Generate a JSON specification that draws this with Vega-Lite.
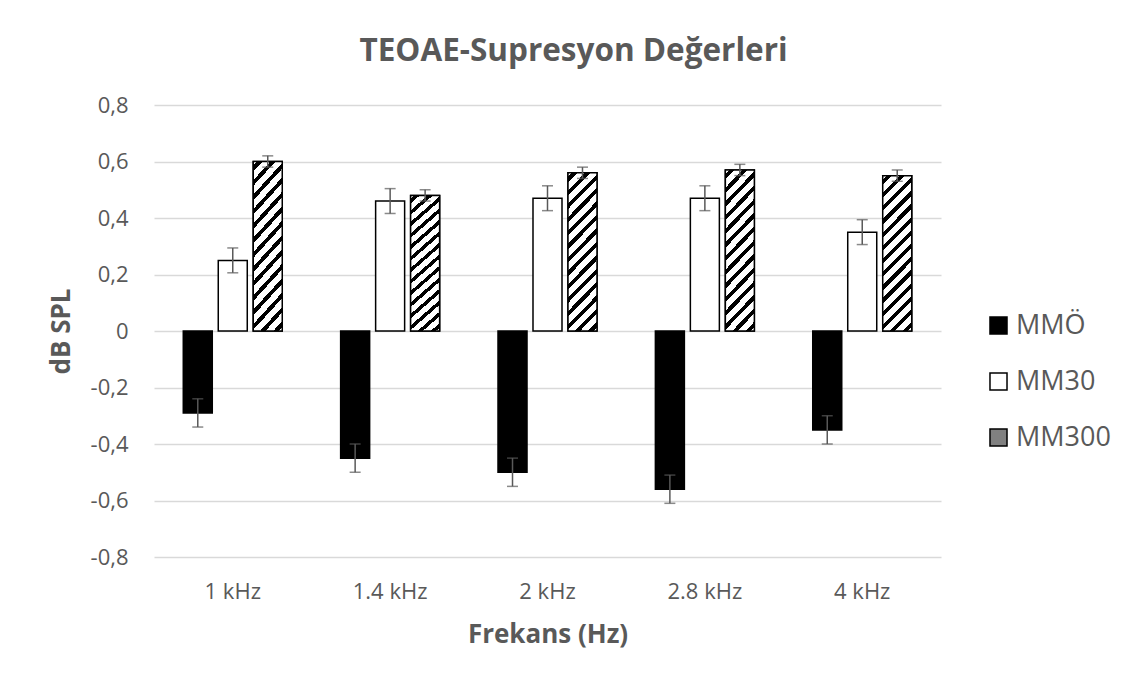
{
  "$schema": "https://vega.github.io/schema/vega-lite/v6.json",
  "width": 787,
  "height": 452,
  "autosize": {"type": "none"},
  "padding": {"left": 154, "top": 105, "right": 194, "bottom": 127},
  "background": "white",
  "title": {
    "text": "TEOAE-Supresyon Değerleri",
    "font": "Open Sans",
    "fontSize": 31.5,
    "fontWeight": "bold",
    "color": "#595959",
    "anchor": "middle",
    "dx": 26,
    "offset": 27
  },
  "config": {
    "view": {"stroke": null},
    "font": "Open Sans",
    "axis": {
      "labelFont": "Open Sans",
      "labelColor": "#595959",
      "labelFontSize": 22,
      "titleFont": "Open Sans",
      "titleColor": "#595959",
      "titleFontSize": 26,
      "titleFontWeight": "bold",
      "gridColor": "#d9d9d9",
      "gridWidth": 1.5,
      "ticks": false,
      "domain": false
    }
  },
  "data": {
    "values": [
      {"freq": "1 kHz", "group": "MMÖ", "value": -0.29, "lo": -0.34, "hi": -0.24},
      {"freq": "1 kHz", "group": "MM30", "value": 0.25, "lo": 0.206, "hi": 0.294},
      {"freq": "1 kHz", "group": "MM300", "value": 0.60, "lo": 0.58, "hi": 0.62},
      {"freq": "1.4 kHz", "group": "MMÖ", "value": -0.45, "lo": -0.50, "hi": -0.40},
      {"freq": "1.4 kHz", "group": "MM30", "value": 0.46, "lo": 0.416, "hi": 0.504},
      {"freq": "1.4 kHz", "group": "MM300", "value": 0.48, "lo": 0.46, "hi": 0.50},
      {"freq": "2 kHz", "group": "MMÖ", "value": -0.50, "lo": -0.55, "hi": -0.45},
      {"freq": "2 kHz", "group": "MM30", "value": 0.47, "lo": 0.426, "hi": 0.514},
      {"freq": "2 kHz", "group": "MM300", "value": 0.56, "lo": 0.54, "hi": 0.58},
      {"freq": "2.8 kHz", "group": "MMÖ", "value": -0.56, "lo": -0.61, "hi": -0.51},
      {"freq": "2.8 kHz", "group": "MM30", "value": 0.47, "lo": 0.426, "hi": 0.514},
      {"freq": "2.8 kHz", "group": "MM300", "value": 0.57, "lo": 0.55, "hi": 0.59},
      {"freq": "4 kHz", "group": "MMÖ", "value": -0.35, "lo": -0.40, "hi": -0.30},
      {"freq": "4 kHz", "group": "MM30", "value": 0.35, "lo": 0.306, "hi": 0.394},
      {"freq": "4 kHz", "group": "MM300", "value": 0.55, "lo": 0.53, "hi": 0.57}
    ]
  },
  "encoding": {
    "x": {
      "field": "freq",
      "type": "nominal",
      "sort": ["1 kHz", "1.4 kHz", "2 kHz", "2.8 kHz", "4 kHz"],
      "scale": {"paddingInner": 0.371, "paddingOuter": 0.186},
      "axis": {"title": "Frekans (Hz)", "labelAngle": 0, "labelPadding": 24, "titlePadding": 19, "grid": false}
    },
    "xOffset": {
      "field": "group",
      "type": "nominal",
      "sort": ["MMÖ", "MM30", "MM300"],
      "scale": {"domain": ["MMÖ", "MM30", "MM300"], "paddingInner": 0.171, "paddingOuter": 0}
    }
  },
  "layer": [
    {
      "mark": {"type": "bar", "stroke": "#000000", "strokeWidth": 1.5},
      "encoding": {
        "y": {
          "field": "value",
          "type": "quantitative",
          "scale": {"domain": [-0.8, 0.8], "nice": false},
          "axis": {
            "title": "dB SPL",
            "values": [-0.8, -0.6, -0.4, -0.2, 0, 0.2, 0.4, 0.6, 0.8],
            "labelExpr": "datum.value == 0 ? '0' : replace(replace(format(datum.value, '.1f'), '.', ','), '−', '-')",
            "labelPadding": 26,
            "titlePadding": 16,
            "grid": true
          }
        },
        "fill": {
          "field": "group",
          "type": "nominal",
          "scale": {"domain": ["MMÖ", "MM30", "MM300"], "range": ["#000000", "#ffffff", "#808080"]},
          "legend": {
            "title": null,
            "orient": "none",
            "legendX": 831,
            "legendY": 207,
            "symbolType": "square",
            "symbolSize": 290,
            "symbolStrokeColor": "#000000",
            "symbolStrokeWidth": 1.5,
            "symbolOpacity": 1,
            "labelFont": "Open Sans",
            "labelFontSize": 27,
            "labelColor": "#595959",
            "labelOffset": 4,
            "rowPadding": 28,
            "labelLimit": 200
          }
        }
      }
    },
    {
      "transform": [{"filter": "datum.group === 'MM300'"}],
      "mark": {
        "type": "bar",
        "stroke": "#000000",
        "strokeWidth": 1.5,
        "fill": {
          "gradient": "linear",
          "x1": 0, "y1": 0, "x2": 0.215, "y2": 1.148,
          "stops": [
            {"offset": 0, "color": "#ffffff"},
            {"offset": 0.0214, "color": "#ffffff"}, {"offset": 0.0214, "color": "#000000"}, {"offset": 0.05, "color": "#000000"}, {"offset": 0.05, "color": "#ffffff"},
            {"offset": 0.0929, "color": "#ffffff"}, {"offset": 0.0929, "color": "#000000"}, {"offset": 0.1214, "color": "#000000"}, {"offset": 0.1214, "color": "#ffffff"},
            {"offset": 0.1643, "color": "#ffffff"}, {"offset": 0.1643, "color": "#000000"}, {"offset": 0.1929, "color": "#000000"}, {"offset": 0.1929, "color": "#ffffff"},
            {"offset": 0.2357, "color": "#ffffff"}, {"offset": 0.2357, "color": "#000000"}, {"offset": 0.2643, "color": "#000000"}, {"offset": 0.2643, "color": "#ffffff"},
            {"offset": 0.3071, "color": "#ffffff"}, {"offset": 0.3071, "color": "#000000"}, {"offset": 0.3357, "color": "#000000"}, {"offset": 0.3357, "color": "#ffffff"},
            {"offset": 0.3786, "color": "#ffffff"}, {"offset": 0.3786, "color": "#000000"}, {"offset": 0.4071, "color": "#000000"}, {"offset": 0.4071, "color": "#ffffff"},
            {"offset": 0.45, "color": "#ffffff"}, {"offset": 0.45, "color": "#000000"}, {"offset": 0.4786, "color": "#000000"}, {"offset": 0.4786, "color": "#ffffff"},
            {"offset": 0.5214, "color": "#ffffff"}, {"offset": 0.5214, "color": "#000000"}, {"offset": 0.55, "color": "#000000"}, {"offset": 0.55, "color": "#ffffff"},
            {"offset": 0.5929, "color": "#ffffff"}, {"offset": 0.5929, "color": "#000000"}, {"offset": 0.6214, "color": "#000000"}, {"offset": 0.6214, "color": "#ffffff"},
            {"offset": 0.6643, "color": "#ffffff"}, {"offset": 0.6643, "color": "#000000"}, {"offset": 0.6929, "color": "#000000"}, {"offset": 0.6929, "color": "#ffffff"},
            {"offset": 0.7357, "color": "#ffffff"}, {"offset": 0.7357, "color": "#000000"}, {"offset": 0.7643, "color": "#000000"}, {"offset": 0.7643, "color": "#ffffff"},
            {"offset": 0.8071, "color": "#ffffff"}, {"offset": 0.8071, "color": "#000000"}, {"offset": 0.8357, "color": "#000000"}, {"offset": 0.8357, "color": "#ffffff"},
            {"offset": 0.8786, "color": "#ffffff"}, {"offset": 0.8786, "color": "#000000"}, {"offset": 0.9071, "color": "#000000"}, {"offset": 0.9071, "color": "#ffffff"},
            {"offset": 0.95, "color": "#ffffff"}, {"offset": 0.95, "color": "#000000"}, {"offset": 0.9786, "color": "#000000"}, {"offset": 0.9786, "color": "#ffffff"},
            {"offset": 1, "color": "#ffffff"}
          ]
        }
      },
      "encoding": {
        "y": {"field": "value", "type": "quantitative"}
      }
    },
    {
      "mark": {"type": "rule", "color": "#595959", "strokeWidth": 1.5},
      "encoding": {
        "y": {"field": "lo", "type": "quantitative"},
        "y2": {"field": "hi"}
      }
    },
    {
      "mark": {"type": "tick", "color": "#595959", "thickness": 1.5, "size": 11},
      "encoding": {
        "y": {"field": "lo", "type": "quantitative"}
      }
    },
    {
      "mark": {"type": "tick", "color": "#595959", "thickness": 1.5, "size": 11},
      "encoding": {
        "y": {"field": "hi", "type": "quantitative"}
      }
    }
  ]
}
